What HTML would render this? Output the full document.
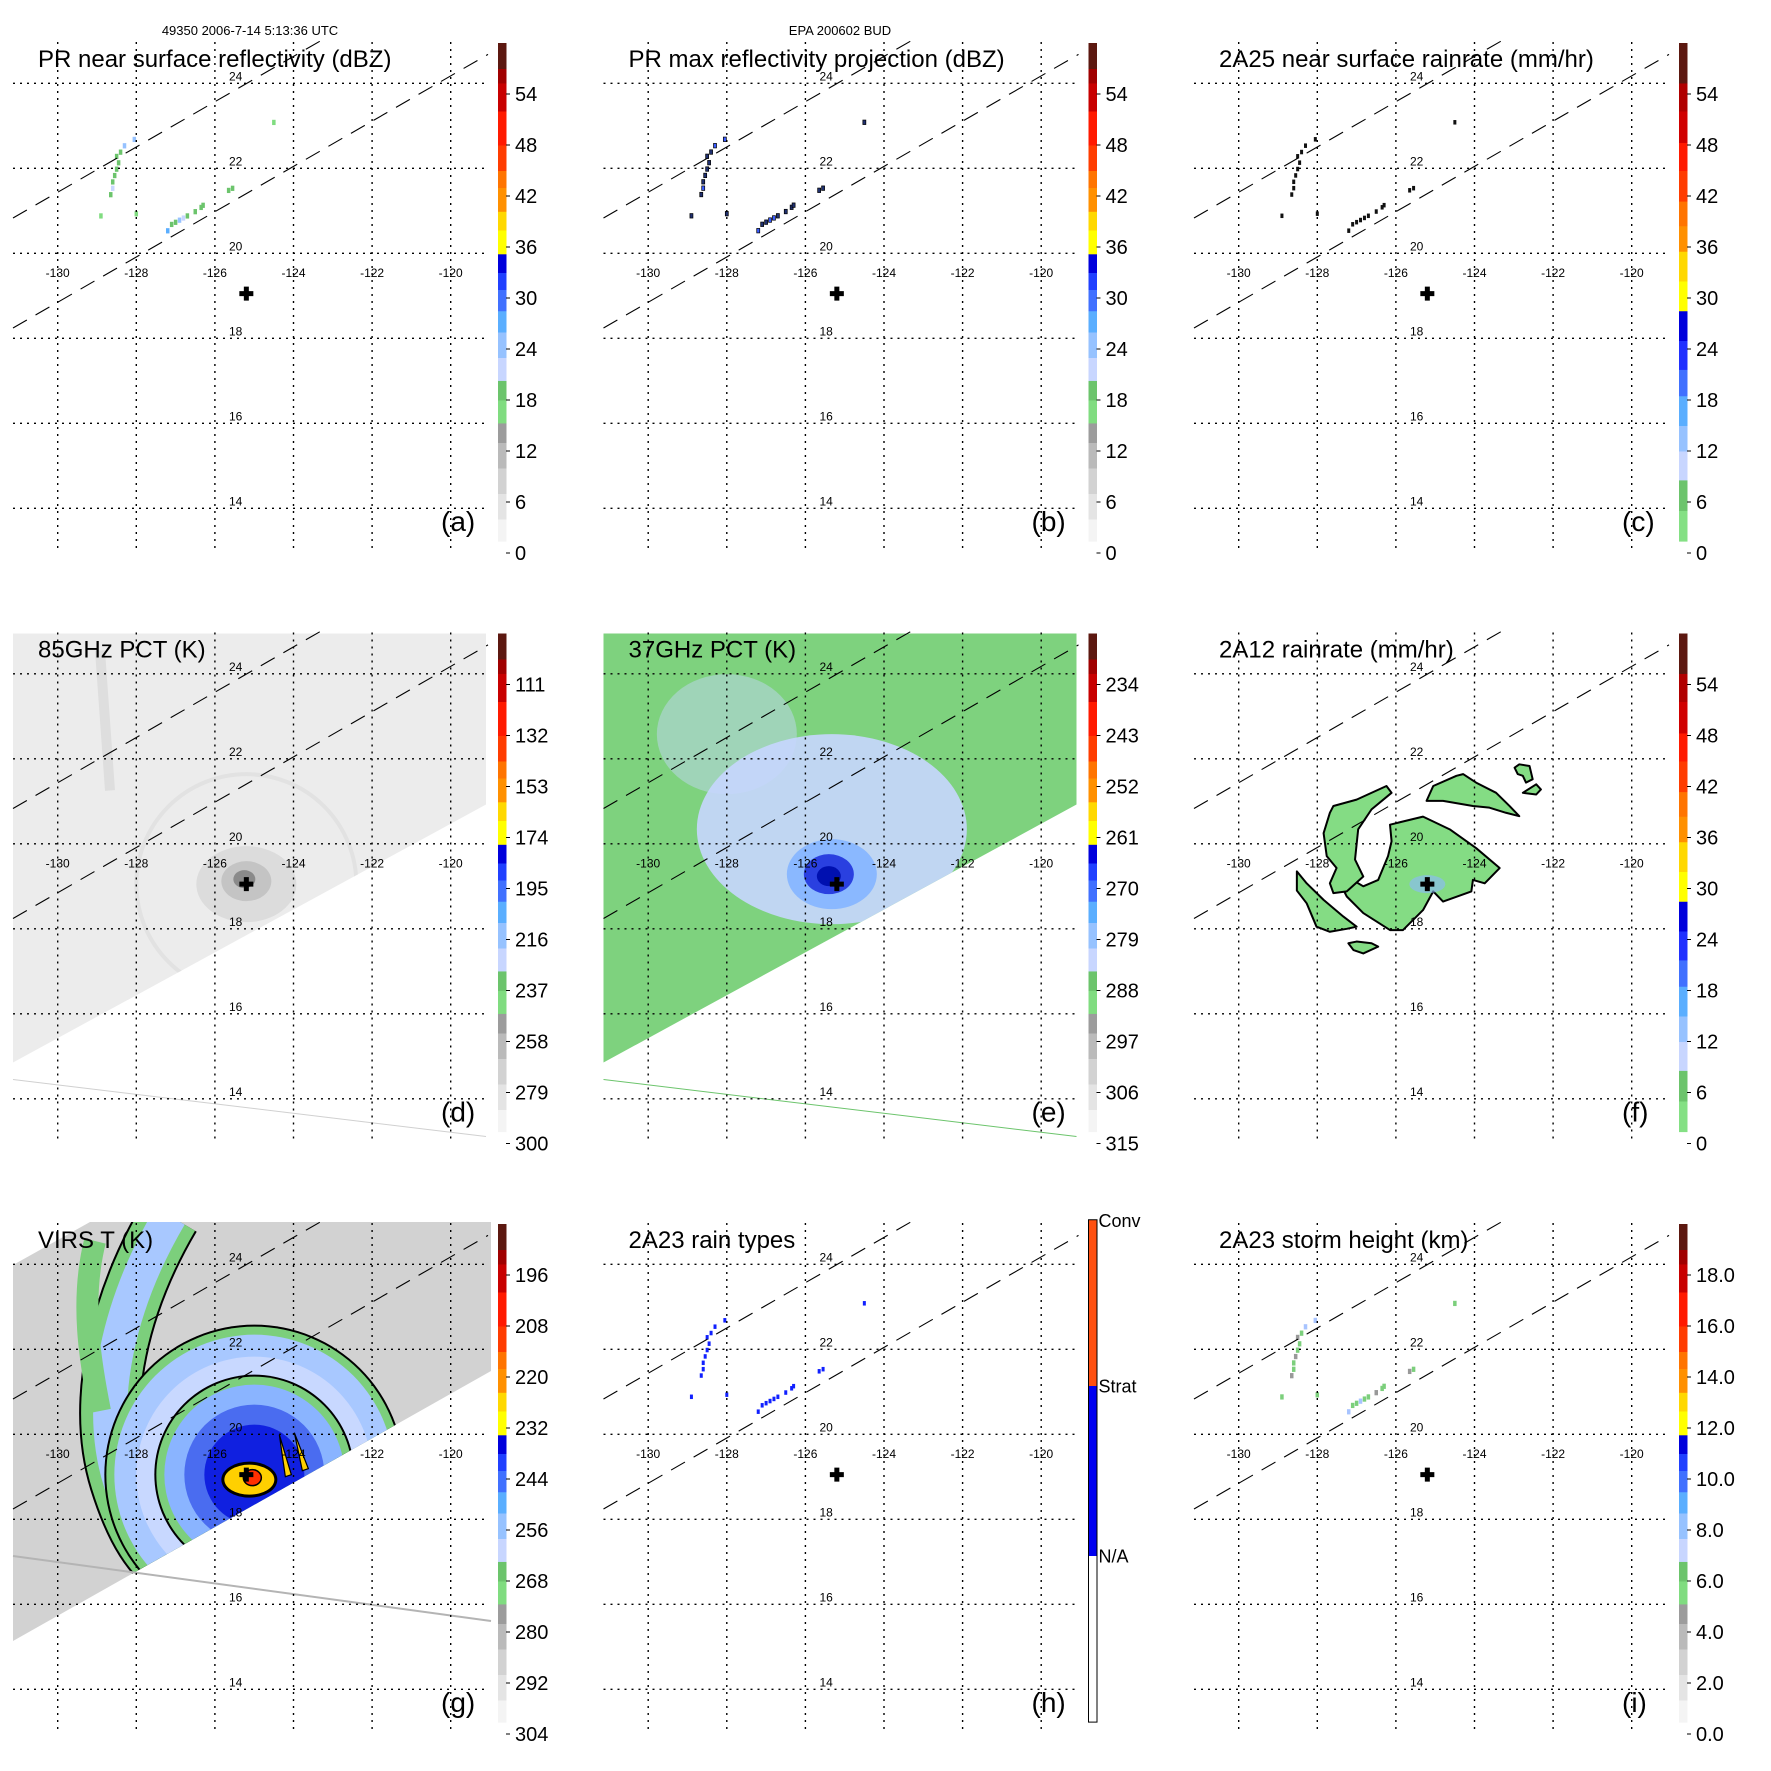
<!DOCTYPE html>
<html><head><meta charset="utf-8"><style>
html,body{margin:0;padding:0;background:#fff;}
svg{display:block;font-family:"Liberation Sans",sans-serif;}
</style></head><body>
<svg id="fig" width="1771" height="1771" viewBox="0 0 1771 1771" xmlns="http://www.w3.org/2000/svg">
<text x="250" y="35" font-size="13" text-anchor="middle">49350 2006-7-14 5:13:36 UTC</text>
<text x="840" y="35" font-size="13" text-anchor="middle">EPA 200602 BUD</text>
</svg>
<script>
// ---- data ----
const lonTicks = [-130,-128,-126,-124,-122,-120];
const latTicks = [24,22,20,18,16,14];
const stormCenterLon = -125.2;
const stormCenterLat = 19.05;
const titles = ["PR near surface reflectivity (dBZ)","PR max reflectivity projection (dBZ)","2A25 near surface rainrate (mm/hr)","85GHz PCT (K)","37GHz PCT (K)","2A12 rainrate (mm/hr)","VIRS T (K)","2A23 rain types","2A23 storm height (km)"];
const panelLetters = ["(a)","(b)","(c)","(d)","(e)","(f)","(g)","(h)","(i)"];
const cbarA = ["54","48","42","36","30","24","18","12","6","0"];
const cbarD = ["111","132","153","174","195","216","237","258","279","300"];
const cbarE = ["234","243","252","261","270","279","288","297","306","315"];
const cbarG = ["196","208","220","232","244","256","268","280","292","304"];
const cbarI = ["18.0","16.0","14.0","12.0","10.0","8.0","6.0","4.0","2.0","0.0"];
const cbarH = ["Conv","Strat","N/A"];
// PR rain pixels (lon, lat, dBZ)
const rainLon = [-128.05,-128.3,-128.4,-128.5,-128.45,-128.5,-128.55,-128.6,-128.6,-128.65,-128.9,-128.0,-127.2,-127.1,-127.0,-126.9,-126.8,-126.7,-126.5,-126.35,-126.3,-125.65,-125.55,-124.5];
const rainLat = [22.7,22.55,22.4,22.3,22.15,22.0,21.85,21.7,21.55,21.4,20.9,20.95,20.55,20.7,20.75,20.8,20.85,20.9,21.0,21.1,21.15,21.5,21.55,23.1];
const rainDbz = [25,24,19,18,18,19,18,18,22,18,17,16,28,19,18,24,22,18,18,18,19,18,18,16];
// 2A12 rain areas (lon/lat outlines)
const blobLon = [
 [-126.15,-125.31,-124.63,-123.96,-123.36,-123.74,-124.04,-124.08,-124.8,-125.05,-125.31,-125.82,-126.15,-126.83,-127.25,-127.42,-127.25,-126.83,-126.45,-126.2,-126.11],
 [-127.59,-127.0,-126.24,-126.11,-126.62,-126.96,-127.04,-126.83,-127.25,-127.59,-127.68,-127.51,-127.76,-127.84,-127.68],
 [-128.52,-128.27,-127.84,-127.34,-127.0,-127.25,-127.68,-128.02,-128.27,-128.52],
 [-125.22,-125.05,-124.46,-124.29,-123.96,-123.45,-123.11,-122.86,-123.2,-123.62,-124.04,-124.8],
 [-122.98,-122.86,-122.6,-122.52,-122.69,-122.77,-122.9],
 [-122.77,-122.43,-122.31,-122.43],
 [-127.21,-127.0,-126.62,-126.45,-126.83,-127.08]];
const blobLat = [
 [20.45,20.64,20.34,19.9,19.43,19.07,19.15,18.88,18.64,18.88,18.44,17.97,17.97,18.37,18.76,19.07,19.23,19.0,19.15,19.71,20.06],
 [20.89,21.04,21.36,21.2,20.81,20.34,19.63,19.23,18.88,18.84,19.07,19.43,19.71,20.25,20.73],
 [19.35,19.07,18.68,18.29,18.05,18.0,17.93,18.05,18.6,18.9],
 [21.01,21.36,21.6,21.64,21.44,21.2,20.89,20.65,20.73,20.85,20.89,21.01],
 [21.79,21.87,21.83,21.52,21.44,21.6,21.64],
 [21.2,21.4,21.28,21.16],
 [17.66,17.7,17.66,17.58,17.42,17.5]];

// ---- geometry ----
const NS = "http://www.w3.org/2000/svg";
const svg = document.getElementById("fig");
const COL = [0,590.5,1181], ROW = [0,590.5,1181];
function ox(p){return COL[p%3];}
function oy(p){return ROW[Math.floor(p/3)];}
function X(p,lon){return ox(p)+57.7+(lon+130)*39.3;}
function Y(p,lat){return oy(p)+253.3+(20-lat)*42.5;}
function cbY(p,v){return oy(p)+553-v*8.5;}
function mk(tag,attrs,parent){const e=document.createElementNS(NS,tag);for(const k in attrs)e.setAttribute(k,attrs[k]);(parent||svg).appendChild(e);return e;}

const bandsA=[[1.4,4,'#f4f4f4'],[4,7,'#e4e4e4'],[7,10,'#d2d2d2'],[10,13,'#bababa'],[13,15.3,'#9c9c9c'],[15.3,18,'#80dc80'],[18,20.3,'#6cc46c'],[20.3,23,'#c8d6ff'],[23,26,'#96c2ff'],[26,28.5,'#5aaeff'],[28.5,31,'#4070ff'],[31,33,'#2040ff'],[33,35.2,'#0000dc'],[35.2,38,'#ffff00'],[38,40.2,'#ffd800'],[40.2,43,'#ff9000'],[43,45,'#ff7400'],[45,48,'#ff3c00'],[48,52,'#ff1a00'],[52,55.3,'#c80000'],[55.3,57,'#a00000'],[57,60,'#5c1810']];
const bandsC=[[1.4,5,'#84e084'],[5,8.6,'#6cc46c'],[8.6,12,'#c8d6ff'],[12,15,'#96c2ff'],[15,18.5,'#5aaeff'],[18.5,21.6,'#4070ff'],[21.6,25,'#2030ff'],[25,28.5,'#0000dc'],[28.5,32,'#ffff00'],[32,35.5,'#ffd800'],[35.5,38.5,'#ff9000'],[38.5,41.4,'#ff7400'],[41.4,45,'#ff3c00'],[45,48.3,'#ff1a00'],[48.3,52,'#d00000'],[52,55.3,'#b00000'],[55.3,60,'#5c1810']];
const bandsH=[[1.4,21,'#ffffff'],[21,41,'#0000f0'],[41,60.5,'#ff5010']];

function valColorA(v){for(const b of bandsA){if(v>=b[0]&&v<b[1])return b[2];}return '#5c1810';}

// ---- build panels ----
for(let p=0;p<9;p++){
  const g=mk('g',{});
  
  
  const x0=ox(p), y0=oy(p);
  const field=mk('g',{},g);
  
  
  drawField(p,field);

  for(const lon of lonTicks){
    const l=mk('line',{x1:X(p,lon),x2:X(p,lon),y1:y0+42,y2:y0+551,stroke:'#000','stroke-width':1.4,'stroke-dasharray':'2,5'},g);
    
    
    const t=mk('text',{x:X(p,lon),y:y0+277,'font-size':12,'text-anchor':'middle'},g);
    t.textContent=lon;
    
    
  }
  for(const lat of latTicks){
    const l=mk('line',{x1:x0+13,x2:x0+488,y1:Y(p,lat),y2:Y(p,lat),stroke:'#000','stroke-width':1.4,'stroke-dasharray':'2,5'},g);
    
    
    const t=mk('text',{x:x0+229,y:Y(p,lat)-3,'font-size':12},g);
    t.textContent=lat;
    
    
  }
  const sA=mk('line',{x1:x0+13,y1:y0+218,x2:x0+322,y2:y0+40,stroke:'#000','stroke-width':1.1,'stroke-dasharray':'16,10'},g);
  
  
  const sB=mk('line',{x1:x0+13,y1:y0+328,x2:x0+488,y2:y0+54.4,stroke:'#000','stroke-width':1.1,'stroke-dasharray':'16,10'},g);
  
  

  const cx=X(p,stormCenterLon), cy=Y(p,stormCenterLat);
  const cr=mk('path',{d:`M${cx-7},${cy-2.5}h14v5h-14z M${cx-2.5},${cy-7}h5v14h-5z`,fill:'#000'},g);
  
  

  const tt=mk('text',{x:x0+38,y:y0+67,'font-size':24},g);
  tt.textContent=titles[p];
  
  
  const lt=mk('text',{x:x0+441,y:y0+531,'font-size':28},g);
  lt.textContent=panelLetters[p];
  
  

  drawColorbar(p,g);
}

function drawColorbar(p,g){
  const x0=ox(p), y0=oy(p);
  const cb=mk('g',{},g);
  
  
  const bands = (p===2||p===5)?bandsC:(p===7?bandsH:bandsA);
  for(const b of bands){
    const r=mk('rect',{x:x0+498,width:8.5,y:cbY(p,b[1]),height:cbY(p,b[0])-cbY(p,b[1])+0.5,fill:b[2]},cb);
    
    
  }
  if(p===7){
    const o=mk('rect',{x:x0+498,width:8.5,y:cbY(p,60.5),height:cbY(p,1.4)-cbY(p,60.5),fill:'none',stroke:'#000','stroke-width':1},cb);
    
    
    const ys=[cbY(p,60.5)+7,cbY(p,41)+7,cbY(p,21)+7];
    cbarH.forEach((s,i)=>{
      const t=mk('text',{x:x0+508,y:ys[i],'font-size':18},cb);
      t.textContent=s;
      
      
    });
    return;
  }
  const labels=[cbarA,cbarA,cbarA,cbarD,cbarE,cbarA,cbarG,null,cbarI][p];
  labels.forEach((s,i)=>{
    const v=54-i*6;
    const tk=mk('line',{x1:x0+506,x2:x0+510,y1:cbY(p,v),y2:cbY(p,v),stroke:'#000','stroke-width':1},cb);
    
    
    const t=mk('text',{x:x0+515,y:cbY(p,v)+7,'font-size':20},cb);
    t.textContent=s;
    
    
  });
}

function clipPoly(p,g,pts){
  const id='clip'+p;
  const cp=mk('clipPath',{id:id},g);
  mk('polygon',{points:pts.map(q=>(ox(p)+q[0])+','+(oy(p)+q[1])).join(' ')},cp);
  return id;
}
function poly(p,pts){return pts.map(q=>(ox(p)+q[0])+','+(oy(p)+q[1])).join(' ');}

function drawRain(p,g,mode){
  for(let i=0;i<rainLon.length;i++){
    const x=X(p,rainLon[i]), y=Y(p,rainLat[i]);
    let fill=valColorA(rainDbz[i]), stroke='none', s=3.5;
    if(mode==='max'){fill=rainDbz[i]>=20?'#3a5cff':'#203070';stroke='#000';s=3;}
    if(mode==='rate'){fill='#111';s=3;}
    if(mode==='type'){fill='#1020ff';s=3;}
    if(mode==='height'){fill=rainDbz[i]>=24?'#a8c4ff':(i%3===0?'#999':'#7ccf7c');s=3.5;}
    const r=mk('rect',{x:x-s/2,y:y-s/2,width:s,height:s*1.5,fill:fill,stroke:stroke,'stroke-width':0.7},g);
    
    
  }
}

function drawField(p,g){
  const x0=ox(p), y0=oy(p);
  if(p===0) drawRain(p,g,'sfc');
  if(p===1) drawRain(p,g,'max');
  if(p===2) drawRain(p,g,'rate');
  if(p===7) drawRain(p,g,'type');
  if(p===8) drawRain(p,g,'height');
  if(p===3||p===4){
    const pts=[[13,43],[486,43],[486,214],[13,472]];
    const id=clipPoly(p,g,pts);
    const bg=mk('polygon',{points:poly(p,pts),fill:p===3?'#ececec':'#7ed27e'},g);
    
    
    const cg=mk('g',{'clip-path':'url(#'+id+')'},g);
    
    
    const cx=X(p,stormCenterLon), cy=Y(p,stormCenterLat);
    if(p===3){
      mk('ellipse',{cx:cx,cy:cy,rx:50,ry:38,fill:'#dcdcdc'},cg);
      mk('ellipse',{cx:cx,cy:cy-3,rx:25,ry:20,fill:'#c4c4c4'},cg);
      mk('ellipse',{cx:cx-2,cy:cy-5,rx:11,ry:9,fill:'#8a8a8a'},cg);
      mk('path',{d:`M${x0+100},${y0+60} L${x0+110},${y0+200}`,stroke:'#dedede','stroke-width':10,fill:'none'},cg);
      mk('circle',{cx:cx,cy:cy,r:110,fill:'none',stroke:'#e2e2e2','stroke-width':4},cg);
    } else {
      mk('ellipse',{cx:cx-5,cy:cy-55,rx:135,ry:95,fill:'#c8d6ff',opacity:0.9},cg);
      mk('ellipse',{cx:cx-110,cy:cy-150,rx:70,ry:60,fill:'#c8d6ff',opacity:0.45},cg);
      mk('ellipse',{cx:cx-5,cy:cy-10,rx:45,ry:35,fill:'#8ab8ff'},cg);
      mk('ellipse',{cx:cx-8,cy:cy-10,rx:25,ry:20,fill:'#2a40e0'},cg);
      mk('ellipse',{cx:cx-8,cy:cy-8,rx:12,ry:10,fill:'#0010b0'},cg);
    }
    const ln=mk('line',{x1:x0+13,y1:y0+489,x2:x0+486,y2:y0+546,stroke:p===3?'#d0d0d0':'#6cc46c','stroke-width':1},g);
    
    
  }
  if(p===5){
    for(let b=0;b<blobLon.length;b++){
      const pts=blobLon[b].map((lo,i)=>X(p,lo)+','+Y(p,blobLat[b][i])).join(' ');
      const pg=mk('polygon',{points:pts,fill:'#84dc84',stroke:'#000','stroke-width':2,'stroke-linejoin':'round'},g);
      
      
    }
    const cx=X(p,stormCenterLon), cy=Y(p,stormCenterLat);
    mk('ellipse',{cx:cx,cy:cy,rx:18,ry:9,fill:'#8ab8ff',opacity:0.6},g);
  }
  if(p===6){
    const pts=[[13,84],[90,41],[491,41],[491,190],[13,460]];
    const id=clipPoly(p,g,pts);
    const bg=mk('polygon',{points:poly(p,pts),fill:'#d2d2d2'},g);
    
    
    const cg=mk('g',{'clip-path':'url(#'+id+')'},g);
    
    
    const cx=X(p,stormCenterLon)+8, cy=Y(p,stormCenterLat);
    const band=`M${x0+170},${y0+35} C${x0+120},${y0+120} ${x0+95},${y0+220} ${x0+120},${y0+300} S${x0+170},${y0+380} ${x0+180},${y0+400}`;
    mk('path',{d:band,stroke:'#000',fill:'none','stroke-width':62},cg);
    mk('path',{d:band,stroke:'#7ccf7c',fill:'none','stroke-width':58},cg);
    mk('path',{d:band,stroke:'#a8c8ff',fill:'none','stroke-width':34},cg);
    mk('path',{d:`M${x0+95},${y0+60} C${x0+80},${y0+120} ${x0+90},${y0+180} ${x0+100},${y0+230}`,stroke:'#7ccf7c',fill:'none','stroke-width':22},cg);
    mk('circle',{cx:cx,cy:cy,r:150,fill:'#000'},cg);
    mk('circle',{cx:cx,cy:cy,r:148,fill:'#7ccf7c'},cg);
    mk('circle',{cx:cx,cy:cy,r:140,fill:'#a8c8ff'},cg);
    mk('circle',{cx:cx,cy:cy,r:118,fill:'#c8d8ff'},cg);
    mk('circle',{cx:cx,cy:cy,r:100,fill:'#000'},cg);
    mk('circle',{cx:cx,cy:cy,r:98,fill:'#7ccf7c'},cg);
    mk('circle',{cx:cx,cy:cy,r:90,fill:'#8ab4ff'},cg);
    mk('circle',{cx:cx,cy:cy,r:70,fill:'#4a6cf0'},cg);
    mk('circle',{cx:cx,cy:cy,r:50,fill:'#1020e0'},cg);
    mk('ellipse',{cx:cx-5,cy:cy+5,rx:28,ry:18,fill:'#000'},cg);
    mk('ellipse',{cx:cx-5,cy:cy+5,rx:25,ry:15,fill:'#ffd000'},cg);
    mk('ellipse',{cx:cx-2,cy:cy+3,rx:9,ry:8,fill:'#ff3000',stroke:'#000','stroke-width':1.5},cg);
    mk('path',{d:`M${cx+25},${cy-40} l12,40 l-6,2 z M${cx+40},${cy-42} l14,36 l-6,2 z`,fill:'#ffd000',stroke:'#000','stroke-width':1.2},cg);
    const ln=mk('line',{x1:x0+13,y1:y0+375,x2:x0+491,y2:y0+440,stroke:'#b4b4b4','stroke-width':2},g);
    
    
  }
}
</script>
</body></html>
